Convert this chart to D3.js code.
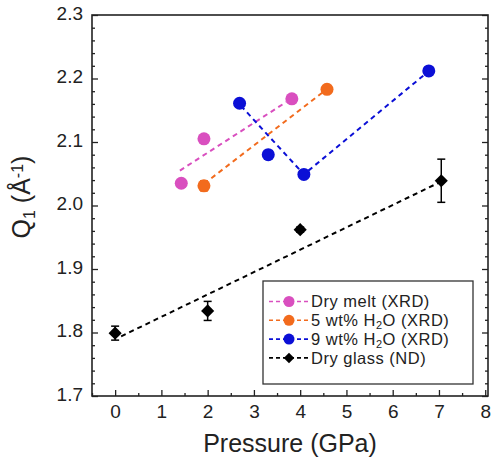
<!DOCTYPE html>
<html>
<head>
<meta charset="utf-8">
<script src="https://cdn.jsdelivr.net/npm/d3@7"></script>
<style>
  body { margin: 0; background: #fff; }
  text { font-family: Arial, "Liberation Sans", sans-serif; fill: #222; }
</style>
</head>
<body>
<div id="chart"></div>
<script>
// Data
const dryMeltP = [1.43, 1.92, 3.82];
const dryMeltQ = [2.035, 2.105, 2.168];
const dryMeltLine = [[1.40, 2.055], [3.70, 2.163]];

const wet5P = [1.92, 4.58];
const wet5Q = [2.031, 2.183];
const wet5Err = [0.008, 0];
const wet5Line = [[2.08, 2.043], [4.52, 2.180]];

const wet9P = [2.69, 3.31, 4.08, 6.78];
const wet9Q = [2.161, 2.080, 2.049, 2.212];
const wet9Line = [[2.72, 2.157], [4.08, 2.049], [6.72, 2.208]];

const glassP = [0, 2, 4, 7.05];
const glassQ = [1.799, 1.834, 1.962, 2.039];
const glassErr = [0.011, 0.015, 0.004, 0.034];
const glassLine = [[0.13, 1.794], [7.0, 2.036]];

const xTicks = [0, 1, 2, 3, 4, 5, 6, 7, 8];
const yTicks = [1.7, 1.8, 1.9, 2.0, 2.1, 2.2, 2.3];

const series = [
  { name: 'Dry melt (XRD)', color: '#d94fbf', shape: 'circle', p: dryMeltP, q: dryMeltQ, err: null, line: dryMeltLine },
  { name: '5 wt% H2O (XRD)', color: '#f26b1d', shape: 'circle', p: wet5P, q: wet5Q, err: wet5Err, line: wet5Line },
  { name: '9 wt% H2O (XRD)', color: '#0b0fd6', shape: 'circle', p: wet9P, q: wet9Q, err: null, line: wet9Line },
  { name: 'Dry glass (ND)', color: '#000000', shape: 'diamond', p: glassP, q: glassQ, err: glassErr, line: glassLine }
];

const width = 493, height = 459;
const margin = { top: 15, right: 5, bottom: 63, left: 92 };
const w = width - margin.left - margin.right;
const h = height - margin.top - margin.bottom;

const svg = d3.select('#chart').append('svg')
  .attr('width', width)
  .attr('height', height);

const g = svg.append('g')
  .attr('transform', `translate(${margin.left},${margin.top})`);

const x = d3.scaleLinear().domain([-0.5, 8.06]).range([0, w]);
const y = d3.scaleLinear().domain([1.7, 2.3]).range([h, 0]);

// Bottom axis: major + minor ticks pointing inward
const xAxis = g.append('g').attr('transform', `translate(0,${h})`);
xAxis.call(d3.axisBottom(x).tickValues(xTicks).tickSizeInner(-6).tickSizeOuter(0).tickPadding(9).tickFormat(d3.format('d')));
xAxis.selectAll('text').style('font-size', '19px');
xAxis.append('g').call(d3.axisBottom(x).tickValues(d3.range(-0.5, 8.0, 1)).tickSizeInner(-3).tickSizeOuter(0).tickFormat(''));

// Left axis
const yAxis = g.append('g');
yAxis.call(d3.axisLeft(y).tickValues(yTicks).tickSizeInner(-6).tickSizeOuter(0).tickPadding(9).tickFormat(d3.format('.1f')));
yAxis.selectAll('text').style('font-size', '19px').attr('dy', '0.22em');
const yMinor = d3.range(1.72, 2.3, 0.02).filter(v => Math.abs(Math.round(v * 10) - v * 10) > 0.01);
yAxis.append('g').call(d3.axisLeft(y).tickValues(yMinor).tickSizeInner(-3).tickSizeOuter(0).tickFormat(''));

// Right axis (ticks only)
const yRight = g.append('g').attr('transform', `translate(${w},0)`);
yRight.call(d3.axisRight(y).tickValues(yTicks).tickSizeInner(-6).tickSizeOuter(0).tickFormat(''));
yRight.append('g').call(d3.axisRight(y).tickValues(yMinor).tickSizeInner(-3).tickSizeOuter(0).tickFormat(''));

g.selectAll('.domain').remove();
g.selectAll('.tick line').attr('stroke', '#222').attr('stroke-width', 1.3);

// Frame
g.append('rect')
  .attr('width', w).attr('height', h)
  .attr('fill', 'none').attr('stroke', '#222').attr('stroke-width', 1.6);

// Axis titles
svg.append('text')
  .attr('x', 290)
  .attr('y', 452)
  .attr('text-anchor', 'middle')
  .style('font-size', '25px')
  .text('Pressure (GPa)');

const yTitle = svg.append('text')
  .attr('transform', 'translate(30,197) rotate(-90)')
  .attr('text-anchor', 'middle')
  .style('font-size', '25px');
yTitle.append('tspan').text('Q');
yTitle.append('tspan').attr('baseline-shift', '-30%').style('font-size', '16px').text('1');
yTitle.append('tspan').text(' (Å');
yTitle.append('tspan').attr('baseline-shift', '45%').style('font-size', '16px').text('-1');
yTitle.append('tspan').text(')');

const lineGen = d3.line().x(d => x(d[0])).y(d => y(d[1]));
const diamond = d3.symbol().type(d3.symbolDiamond2).size(110);

// Dashed guide lines
series.forEach(s => {
  g.append('path')
    .attr('d', lineGen(s.line))
    .attr('fill', 'none')
    .attr('stroke', s.color)
    .attr('stroke-width', 2)
    .attr('stroke-dasharray', '5,4');
});

// Error bars and markers
series.forEach(s => {
  s.p.forEach((p, i) => {
    const e = s.err ? s.err[i] : 0;
    if (e > 0) {
      const cx = x(p), capW = 4;
      g.append('line').attr('x1', cx).attr('x2', cx)
        .attr('y1', y(s.q[i] - e)).attr('y2', y(s.q[i] + e))
        .attr('stroke', s.color).attr('stroke-width', 1.5);
      [s.q[i] - e, s.q[i] + e].forEach(v => {
        g.append('line').attr('x1', cx - capW).attr('x2', cx + capW)
          .attr('y1', y(v)).attr('y2', y(v))
          .attr('stroke', s.color).attr('stroke-width', 1.5);
      });
    }
    if (s.shape === 'circle') {
      g.append('circle').attr('cx', x(p)).attr('cy', y(s.q[i])).attr('r', 6.5).attr('fill', s.color);
    } else {
      g.append('path').attr('d', diamond)
        .attr('transform', `translate(${x(p)},${y(s.q[i])})`)
        .attr('fill', s.color);
    }
  });
});

// Legend
const legX = 263 - margin.left, legY = 281 - margin.top;
const leg = g.append('g').attr('transform', `translate(${legX},${legY})`);
leg.append('rect')
  .attr('width', 210).attr('height', 103)
  .attr('fill', '#fff').attr('stroke', '#333').attr('stroke-width', 1.3);

series.forEach((s, i) => {
  const ry = 20.5 + i * 18.8;
  leg.append('line').attr('x1', 6).attr('x2', 46).attr('y1', ry).attr('y2', ry)
    .attr('stroke', s.color).attr('stroke-width', 1.6).attr('stroke-dasharray', '4,3');
  if (s.shape === 'circle') {
    leg.append('circle').attr('cx', 26).attr('cy', ry).attr('r', 5.5).attr('fill', s.color);
  } else {
    leg.append('path').attr('d', d3.symbol().type(d3.symbolDiamond2).size(70))
      .attr('transform', `translate(26,${ry})`).attr('fill', s.color);
  }
  const t = leg.append('text').attr('x', 48).attr('y', ry + 5.8)
    .style('font-size', '16.5px').style('letter-spacing', '0.5px');
  const m = s.name.match(/^(.*)H2O(.*)$/);
  if (m) {
    t.append('tspan').text(m[1] + 'H');
    t.append('tspan').attr('baseline-shift', '-30%').style('font-size', '11px').text('2');
    t.append('tspan').text('O' + m[2]);
  } else {
    t.text(s.name);
  }
});
</script>
</body>
</html>
